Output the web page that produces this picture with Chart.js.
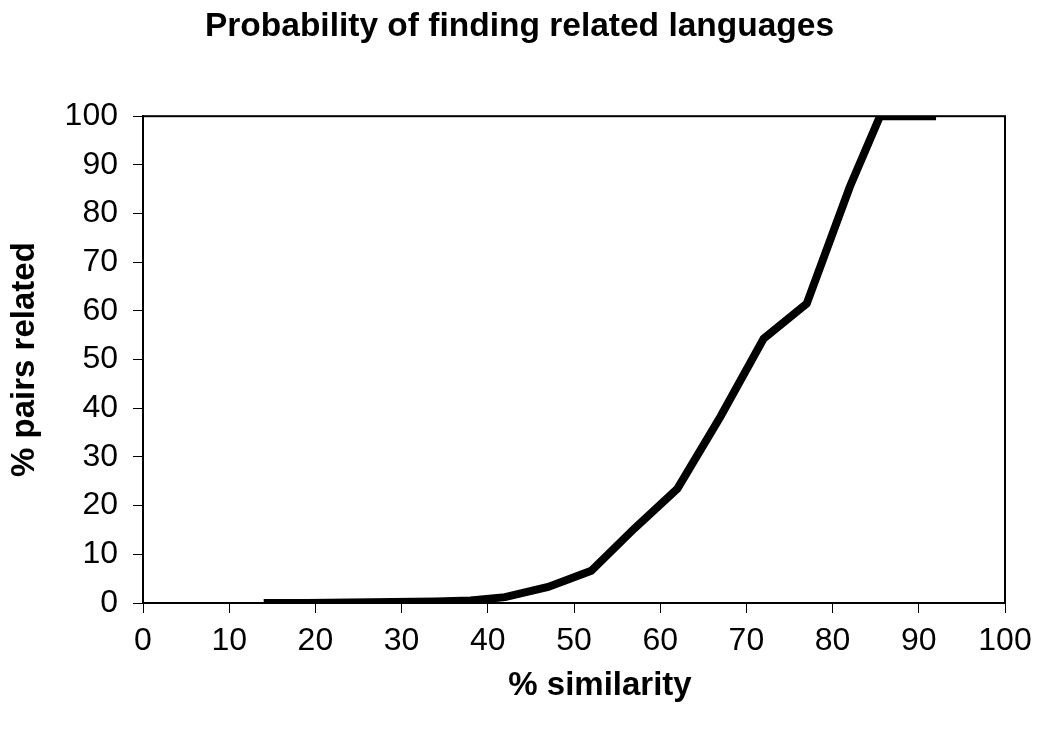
<!DOCTYPE html>
<html>
<head>
<meta charset="utf-8">
<script src="https://cdn.jsdelivr.net/npm/chart.js@4"></script>
<style>
  html, body { margin: 0; padding: 0; background: #fff; }
  #wrap { width: 1039px; height: 729px; }
</style>
</head>
<body>
<div id="wrap"><canvas id="myChart" width="1039" height="729"></canvas></div>
<script>
// valores
const similarity = [14, 19, 24, 29, 34, 38, 42, 47, 52, 57, 62, 67, 72, 77, 82, 85.5, 92];
const related = [0, 0, 0.1, 0.2, 0.3, 0.5, 1.2, 3.3, 6.6, 15.3, 23.5, 38.3, 54.3, 61.5, 85.5, 100, 100];
const xTicks = [0, 10, 20, 30, 40, 50, 60, 70, 80, 90, 100];
const yTicks = [0, 10, 20, 30, 40, 50, 60, 70, 80, 90, 100];

const font = 'Arial, "Liberation Sans", Helvetica, sans-serif';

// moldura em volta da área do gráfico + título do eixo x
const frame = {
  id: 'frame',
  afterDraw(chart) {
    const { ctx, chartArea: a } = chart;
    ctx.save();
    ctx.strokeStyle = '#000';
    ctx.lineWidth = 2;
    ctx.strokeRect(a.left, a.top, a.right - a.left, a.bottom - a.top);
    ctx.fillStyle = '#000';
    ctx.font = 'bold 33px ' + font;
    ctx.textAlign = 'center';
    ctx.textBaseline = 'middle';
    ctx.fillText('% similarity', 600, 686);
    ctx.restore();
  }
};

new Chart(document.getElementById('myChart'), {
  type: 'line',
  data: {
    datasets: [{
      data: similarity.map((x, i) => ({ x: x, y: related[i] })),
      borderColor: '#000',
      borderWidth: 8,
      pointRadius: 0,
      tension: 0,
      fill: false,
      borderJoinStyle: 'miter'
    }]
  },
  options: {
    responsive: false,
    animation: false,
    layout: { padding: 0 },
    plugins: {
      legend: { display: false },
      tooltip: { enabled: false },
      title: {
        display: true,
        text: 'Probability of finding related languages',
        color: '#000',
        font: { family: font, size: 33.5, weight: 'bold' },
        padding: { top: 7, bottom: 69 }
      }
    },
    scales: {
      x: {
        type: 'linear',
        min: 0,
        max: 100,
        afterBuildTicks: s => { s.ticks = xTicks.map(v => ({ value: v })); },
        afterFit: s => { s.height = 126; s.paddingLeft = 0; s.paddingRight = 0; },
        ticks: { color: '#000', font: { family: font, size: 32 }, padding: 9, maxRotation: 0 },
        grid: { drawOnChartArea: false, drawTicks: true, tickLength: 10, color: '#000' },
        border: { display: true, color: '#000', width: 2 }
      },
      y: {
        min: 0,
        max: 100,
        afterBuildTicks: s => { s.ticks = yTicks.map(v => ({ value: v })); },
        afterFit: s => { s.width = 143; },
        ticks: { color: '#000', font: { family: font, size: 32 }, padding: 15 },
        grid: { drawOnChartArea: false, drawTicks: true, tickLength: 10, color: '#000' },
        border: { display: true, color: '#000', width: 2 },
        title: {
          display: true,
          text: '% pairs related',
          color: '#000',
          font: { family: font, size: 33, weight: 'bold' },
          padding: { top: 5, bottom: 0 }
        }
      },
      // espaço vazio à direita
      yRight: {
        position: 'right',
        min: 0,
        max: 100,
        afterFit: s => { s.width = 34; },
        ticks: { display: false },
        grid: { display: false },
        border: { display: false }
      }
    }
  },
  plugins: [frame]
});
</script>
</body>
</html>
